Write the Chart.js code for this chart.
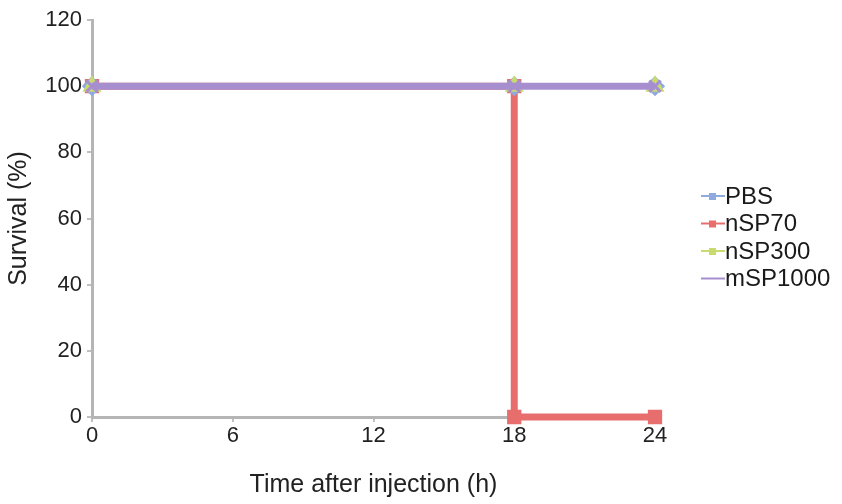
<!DOCTYPE html>
<html>
<head>
<meta charset="utf-8">
<script src="https://cdn.jsdelivr.net/npm/chart.js@4.4.1/dist/chart.umd.min.js"></script>
<style>
  html, body { margin: 0; padding: 0; background: #fff; }
  #wrap { width: 842px; height: 504px; }
</style>
</head>
<body>
<div id="wrap"><canvas id="survivalChart" width="842" height="504"></canvas></div>
<script>
// data
const seriesNames = ['PBS', 'nSP70', 'nSP300', 'mSP1000'];
const hours = [0, 18, 24];
const pbs = [100, 100, 100];
const nsp300 = [100, 100, 100];
const msp1000 = [100, 100, 100];
// nSP70 drops at 18 h, so the step has two points at x = 18
const nsp70Hours = [0, 18, 18, 24];
const nsp70 = [100, 100, 0, 0];
const xTicks = [0, 6, 12, 18, 24];
const yTicks = [0, 20, 40, 60, 80, 100, 120];

const colors = ['#8eaadf', '#e86e6e', '#c9da6e', '#a78fcf'];
const markers = ['rectRot', 'rect', 'triangle', 'crossRot'];

const toPoints = (xs, ys) => xs.map((x, i) => ({ x: x, y: ys[i] }));

const makeSet = (i, points, width, order) => ({
    label: seriesNames[i],
    data: points,
    borderColor: colors[i],
    backgroundColor: colors[i],
    borderWidth: width,
    pointStyle: markers[i],
    pointRadius: 8,
    pointBorderWidth: 3,
    pointBorderColor: colors[i],
    pointBackgroundColor: colors[i],
    tension: 0,
    clip: false,
    order: order
});

const legendPlugin = {
    id: 'sideLegend',
    afterDraw(chart) {
        const ctx = chart.ctx;
        ctx.save();
        ctx.font = '24px "Liberation Sans", Arial, sans-serif';
        ctx.textBaseline = 'middle';
        chart.data.datasets
            .slice()
            .sort((a, b) => seriesNames.indexOf(a.label) - seriesNames.indexOf(b.label))
            .forEach((ds, i) => {
                const y = 196 + i * 27.5;
                ctx.strokeStyle = ds.borderColor;
                ctx.lineWidth = 2;
                ctx.beginPath();
                ctx.moveTo(701, y);
                ctx.lineTo(725, y);
                ctx.stroke();
                if (ds.label !== 'mSP1000') {
                    ctx.fillStyle = ds.borderColor;
                    ctx.fillRect(709, y - 3, 7, 7);
                }
                ctx.fillStyle = '#1a1a1a';
                ctx.fillText(ds.label, 725, y + 1);
            });
        ctx.restore();
    }
};

const tickFont = { family: '"Liberation Sans", Arial, sans-serif', size: 22 };
const titleFont = { family: '"Liberation Sans", Arial, sans-serif', size: 25 };

new Chart(document.getElementById('survivalChart'), {
    type: 'line',
    data: {
        datasets: [
            makeSet(3, toPoints(hours, msp1000), 7, 0),
            makeSet(2, toPoints(hours, nsp300), 5, 1),
            makeSet(0, toPoints(hours, pbs), 5, 2),
            makeSet(1, toPoints(nsp70Hours, nsp70), 7, 3)
        ]
    },
    options: {
        responsive: false,
        animation: false,
        layout: { padding: { top: 20, right: 187, left: 0, bottom: 0 } },
        plugins: {
            legend: { display: false },
            tooltip: { enabled: false }
        },
        scales: {
            x: {
                type: 'linear',
                min: 0,
                max: 24,
                afterBuildTicks: (axis) => { axis.ticks = xTicks.map(v => ({ value: v })); },
                afterFit: (axis) => { axis.height = 87; },
                border: { color: '#b5b5b5', width: 3 },
                grid: { drawOnChartArea: false, color: '#c0c0c0', tickLength: 5, lineWidth: 2 },
                ticks: { color: '#222', font: tickFont, padding: 1 },
                title: {
                    display: true,
                    text: 'Time after injection (h)',
                    color: '#222',
                    font: titleFont,
                    padding: { top: 4 }
                }
            },
            y: {
                min: 0,
                max: 120,
                afterBuildTicks: (axis) => { axis.ticks = yTicks.map(v => ({ value: v })); },
                afterFit: (axis) => { axis.width = 92; },
                border: { color: '#b5b5b5', width: 3 },
                grid: { drawOnChartArea: false, color: '#c0c0c0', tickLength: 5, lineWidth: 2 },
                ticks: { color: '#222', font: tickFont, padding: 5 },
                title: {
                    display: true,
                    text: 'Survival (%)',
                    color: '#222',
                    font: titleFont,
                    padding: { bottom: 0 }
                }
            }
        }
    },
    plugins: [legendPlugin]
});
</script>
</body>
</html>
